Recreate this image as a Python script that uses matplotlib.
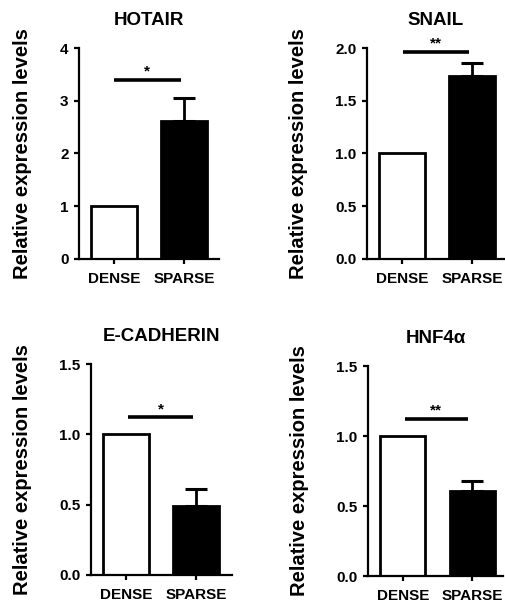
import matplotlib
matplotlib.use("Agg")
import matplotlib.pyplot as plt

plt.rcParams['font.family'] = ['Liberation Sans', 'DejaVu Sans']
plt.rcParams['font.weight'] = 'bold'

categories = ["DENSE", "SPARSE"]
titles = ["HOTAIR", "SNAIL", "E-CADHERIN", "HNF4α"]
means = [[1.0, 2.62], [1.0, 1.73], [1.0, 0.49], [1.0, 0.61]]
errors = [[0.0, 0.44], [0.0, 0.13], [0.0, 0.12], [0.0, 0.07]]
ylims = [4, 2.0, 1.5, 1.5]
yticks = [[0, 1, 2, 3, 4], [0.0, 0.5, 1.0, 1.5, 2.0], [0.0, 0.5, 1.0, 1.5], [0.0, 0.5, 1.0, 1.5]]
ytick_fmt = ["{:.0f}", "{:.1f}", "{:.1f}", "{:.1f}"]
sig_labels = ["*", "**", "*", "**"]
sig_y = [3.4, 1.96, 1.12, 1.12]
star_y = [3.64, 2.08, 1.21, 1.21]
sig_x = [[0.0, 0.95], [0.02, 0.95], [0.03, 0.96], [0.03, 0.93]]

W, H = 506, 605
fig = plt.figure(figsize=(W / 100, H / 100), dpi=100)

# pixel boxes: left, right, top, bottom
boxes = [(79, 219, 48, 259), (367, 505, 48, 259), (91, 232, 364, 575), (368, 503, 366, 576)]
xright = [1.5, 1.47, 1.51, 1.44]

for i in range(4):
    l, r, t, b = boxes[i]
    ax = fig.add_axes([l / W, (H - b) / H, (r - l) / W, (b - t) / H])
    x = list(range(len(categories)))
    ax.bar(x, means[i], width=0.65, color=["white", "black"], edgecolor="black", linewidth=2.0, zorder=2)
    ax.errorbar([1], [means[i][1]], yerr=[[0], [errors[i][1]]], fmt="none", ecolor="black",
                elinewidth=2.0, capsize=8, capthick=2.2, zorder=1)
    ax.set_xlim(-0.5, xright[i])
    ax.set_ylim(0, ylims[i])
    ax.set_yticks(yticks[i])
    ax.set_yticklabels([ytick_fmt[i].format(v) for v in yticks[i]], fontsize=11, fontweight="bold")
    ax.set_xticks(x)
    ax.set_xticklabels(categories, fontsize=11, fontweight="bold")
    for s in ["top", "right"]:
        ax.spines[s].set_visible(False)
    for s in ["left", "bottom"]:
        ax.spines[s].set_linewidth(1.6)
    ax.tick_params(axis="both", direction="out", length=3.5, width=1.6, pad=4)
    ax.tick_params(axis="x", pad=6)
    ax.set_ylabel("Relative expression levels", fontsize=14.5, fontweight="bold", labelpad=20)
    ax.set_title(titles[i], fontsize=13.5, fontweight="bold", pad=16.5)
    ax.plot(sig_x[i], [sig_y[i], sig_y[i]], color="black", linewidth=2.6, solid_capstyle="butt", clip_on=False)
    ax.annotate(sig_labels[i], xy=(sum(sig_x[i]) / 2, star_y[i]), xytext=(0, -6),
                textcoords="offset points", ha="center", va="baseline",
                fontsize=11, fontweight="bold", annotation_clip=False)

fig.savefig("out.png", dpi=100)
